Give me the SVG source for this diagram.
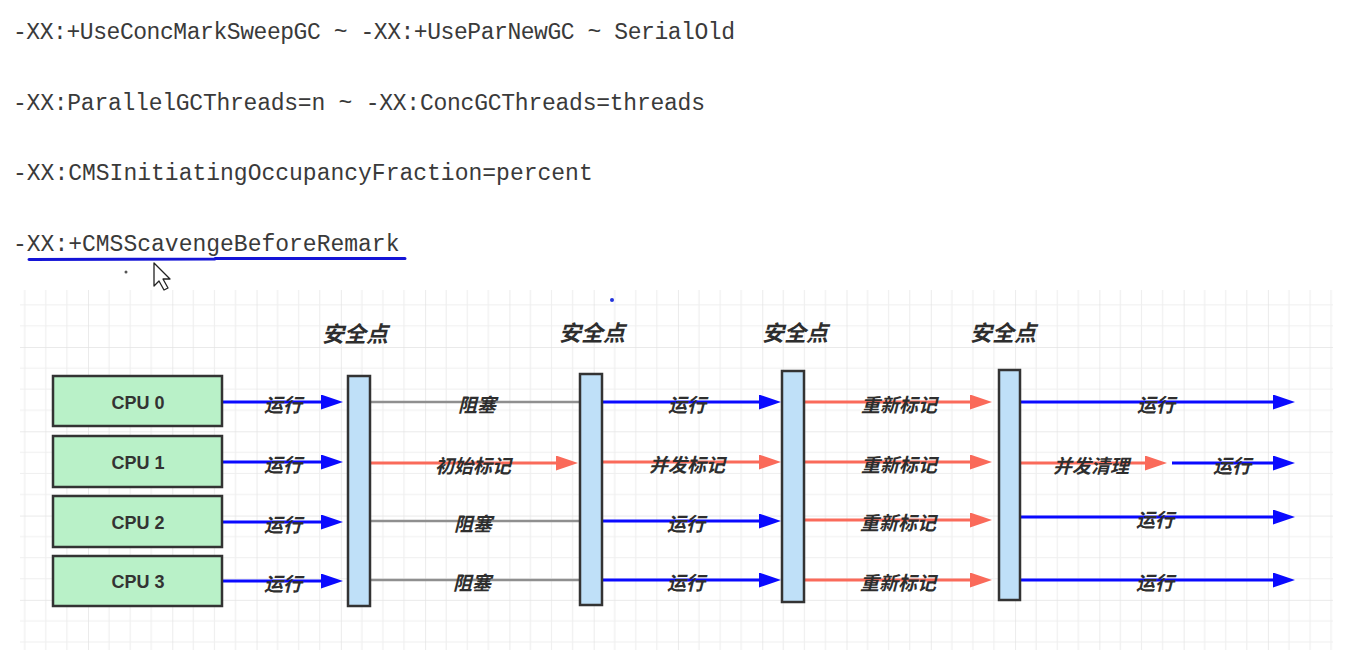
<svg xmlns="http://www.w3.org/2000/svg" width="1356" height="671" viewBox="0 0 1356 671">
<style>
.cmd{font-family:"Liberation Mono","DejaVu Sans Mono",monospace;font-size:23px;fill:#3a3a3a}
.cpu rect{fill:#b9f1c8;stroke:#333;stroke-width:2.5}
.cpu text{font-family:"Liberation Sans",Arial,sans-serif;font-weight:bold;font-size:18px;fill:#333;text-anchor:middle}
.sp rect{fill:#bfe0f8;stroke:#333;stroke-width:2.5}
.sp text{font-family:"Noto Sans CJK SC",sans-serif;font-weight:bold;font-style:italic;font-size:22px;fill:#2e2e2e;text-anchor:middle}
.lbl{font-family:"Noto Sans CJK SC",sans-serif;font-weight:bold;font-style:italic;font-size:19px;fill:#2e2e2e;text-anchor:middle}
.b{stroke:#0a0aff;stroke-width:3;fill:none;marker-end:url(#ab)}
.r{stroke:#fa6a5a;stroke-width:3;fill:none;marker-end:url(#ar)}
.g{stroke:#8f8f8f;stroke-width:2.5;fill:none}
</style>
<defs>
<pattern id="grid" patternUnits="userSpaceOnUse" x="3.72" y="262.72" width="84.28" height="84.28">
<path d="M21.07 0V84.28M42.14 0V84.28M63.21 0V84.28M0 21.07H84.28M0 42.14H84.28M0 63.21H84.28" stroke="#efefef" stroke-width="1.2" fill="none"/>
<path d="M0 0V84.28M0 0H84.28" stroke="#e3e3e3" stroke-width="1.4" fill="none"/>
</pattern>
<marker id="ab" markerUnits="userSpaceOnUse" markerWidth="23" markerHeight="16" refX="3" refY="7.5" orient="auto"><path d="M0,0L22,7.5L0,15z" fill="#0a0aff"/></marker>
<marker id="ar" markerUnits="userSpaceOnUse" markerWidth="23" markerHeight="16" refX="3" refY="7.5" orient="auto"><path d="M0,0L22,7.5L0,15z" fill="#fa6a5a"/></marker>
</defs>
<rect width="1356" height="671" fill="#ffffff"/>
<text class="cmd" x="13" y="39" textLength="722" lengthAdjust="spacing">-XX:+UseConcMarkSweepGC ~ -XX:+UseParNewGC ~ SerialOld</text>
<text class="cmd" x="13" y="110" textLength="692" lengthAdjust="spacing">-XX:ParallelGCThreads=n ~ -XX:ConcGCThreads=threads</text>
<text class="cmd" x="13" y="180">-XX:CMSInitiatingOccupancyFraction=percent</text>
<text class="cmd" x="13" y="251">-XX:+CMSScavengeBeforeRemark</text>
<path d="M29 259.5L215 259M215 258.5L405 258.5" stroke="#1414d6" stroke-width="3" stroke-linecap="round" fill="none"/>
<circle cx="126" cy="272" r="1.5" fill="#555"/>
<path d="M154 263L154 286L159 281L164 290L168 288L163 279L170 279Z" fill="#ffffff" stroke="#222" stroke-width="1.3" stroke-linejoin="round"/>
<rect x="20" y="290" width="1313" height="360" fill="url(#grid)"/>
<circle cx="612" cy="300" r="2" fill="#2233dd"/>
<g id="connectors">
<path class="b" d="M222 402H324"/>
<path class="b" d="M222 462H324"/>
<path class="b" d="M222 522H324"/>
<path class="b" d="M222 581H324"/>
<path class="g" d="M370 402H579"/>
<path class="r" d="M370 463H559"/>
<path class="g" d="M370 521H579"/>
<path class="g" d="M370 580H579"/>
<path class="b" d="M602 402H762"/>
<path class="r" d="M602 462H762"/>
<path class="b" d="M602 521H762"/>
<path class="b" d="M602 580H762"/>
<path class="r" d="M804 402H973"/>
<path class="r" d="M804 462H973"/>
<path class="r" d="M804 520H973"/>
<path class="r" d="M804 580H973"/>
<path class="b" d="M1020 402H1276"/>
<path class="r" d="M1020 463H1148"/>
<path class="b" d="M1172 463H1276"/>
<path class="b" d="M1020 517H1276"/>
<path class="b" d="M1020 580H1276"/>
<text class="lbl" x="283" y="412">运行</text>
<text class="lbl" x="283" y="472">运行</text>
<text class="lbl" x="283" y="532">运行</text>
<text class="lbl" x="283" y="591">运行</text>
<text class="lbl" x="477" y="412">阻塞</text>
<text class="lbl" x="473" y="473">初始标记</text>
<text class="lbl" x="473" y="531">阻塞</text>
<text class="lbl" x="472" y="590">阻塞</text>
<text class="lbl" x="687" y="412">运行</text>
<text class="lbl" x="687" y="472">并发标记</text>
<text class="lbl" x="686" y="531">运行</text>
<text class="lbl" x="686" y="590">运行</text>
<text class="lbl" x="899" y="412">重新标记</text>
<text class="lbl" x="899" y="472">重新标记</text>
<text class="lbl" x="898" y="530">重新标记</text>
<text class="lbl" x="898" y="590">重新标记</text>
<text class="lbl" x="1156" y="412">运行</text>
<text class="lbl" x="1091" y="473">并发清理</text>
<text class="lbl" x="1232" y="473">运行</text>
<text class="lbl" x="1155" y="527">运行</text>
<text class="lbl" x="1155" y="590">运行</text>
</g>
<g id="cpu0" class="cpu"><rect x="53" y="376" width="169" height="50"/><text x="138" y="409">CPU 0</text></g>
<g id="cpu1" class="cpu"><rect x="53" y="436" width="169" height="51"/><text x="138" y="469">CPU 1</text></g>
<g id="cpu2" class="cpu"><rect x="53" y="496" width="169" height="51"/><text x="138" y="529">CPU 2</text></g>
<g id="cpu3" class="cpu"><rect x="53" y="556" width="169" height="50"/><text x="138" y="588">CPU 3</text></g>
<g id="sp1" class="sp"><text x="355" y="342">安全点</text><rect x="348" y="376" width="22" height="230"/></g>
<g id="sp2" class="sp"><text x="592" y="341">安全点</text><rect x="580" y="374" width="22" height="231"/></g>
<g id="sp3" class="sp"><text x="795" y="341">安全点</text><rect x="782" y="371" width="22" height="231"/></g>
<g id="sp4" class="sp"><text x="1003" y="341">安全点</text><rect x="999" y="370" width="21" height="230"/></g>
</svg>
